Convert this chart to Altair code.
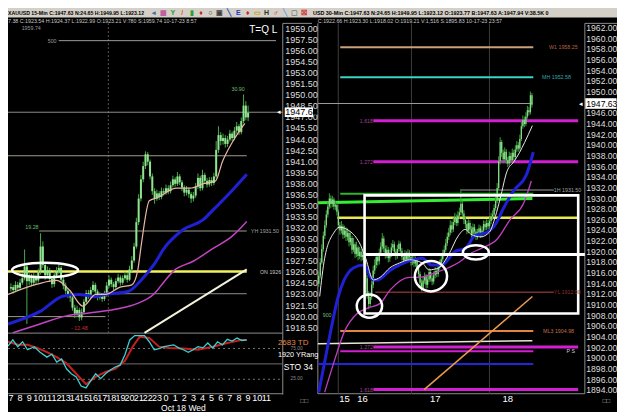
import altair as alt
import pandas as pd

W, H = 609, 404
SX, SY = W / 625.0, H / 420.0
FONT = "Liberation Sans"


def px(v):
    return v * SX


def py(v):
    return v * SY


# ======================= DATA =======================
# ---- left pane: XAUUSD 15-min candles (hours since Oct 17 00:00) ----
L_OPEN0 = 1923.8
L_CLOSE = [1924.0, 1923.6, 1924.3, 1923.9, 1924.6, 1925.2, 1926.8, 1924.8, 1925.4, 1924.6,
           1925.3, 1924.9, 1926.0, 1929.5, 1927.0, 1925.6, 1926.3, 1925.1, 1924.4, 1925.6,
           1926.2, 1926.6, 1925.0, 1924.2, 1923.5, 1923.0, 1922.6, 1921.2, 1920.4, 1920.9,
           1919.9, 1920.6, 1922.0, 1923.2, 1922.8, 1923.6, 1924.3, 1923.4, 1922.6, 1922.9,
           1922.4, 1923.0, 1924.2, 1925.0, 1924.4, 1924.0, 1924.8, 1925.3, 1924.6, 1925.2,
           1925.6, 1925.0, 1926.4, 1927.6, 1929.5, 1932.8, 1936.0, 1938.6, 1940.4, 1942.0,
           1941.0, 1939.0, 1937.0, 1936.0, 1936.7, 1936.2, 1937.0, 1936.8, 1937.4, 1937.0,
           1937.8, 1938.6, 1938.0, 1939.0, 1938.2, 1937.5, 1936.8, 1937.2, 1936.6, 1936.0,
           1936.4, 1937.6, 1938.8, 1937.4, 1939.2, 1938.4, 1937.9, 1938.5, 1938.1, 1939.0,
           1942.6, 1944.6, 1943.8, 1944.2, 1943.4, 1944.0, 1944.8, 1944.2, 1945.2, 1945.8,
           1945.0, 1946.5, 1948.6, 1947.0, 1947.63]
L_HIGH = [1924.5, 1924.3, 1924.8, 1924.7, 1925.1, 1925.9, 1929.1, 1927.0, 1926.0, 1925.8,
          1925.9, 1925.7, 1926.5, 1931.3, 1930.2, 1927.4, 1926.8, 1926.6, 1925.5, 1926.1,
          1926.7, 1927.2, 1926.9, 1925.4, 1924.6, 1923.9, 1923.4, 1922.9, 1921.6, 1921.5,
          1921.2, 1921.1, 1922.4, 1923.6, 1923.6, 1924.0, 1924.8, 1924.6, 1923.7, 1923.3,
          1923.2, 1923.5, 1924.7, 1925.6, 1925.3, 1924.7, 1925.2, 1925.8, 1925.6, 1925.6,
          1926.1, 1925.9, 1926.9, 1928.2, 1930.0, 1933.4, 1936.6, 1939.2, 1941.0, 1942.4,
          1942.3, 1941.3, 1939.4, 1937.4, 1937.2, 1937.0, 1937.5, 1937.4, 1937.9, 1937.8,
          1938.3, 1939.1, 1938.9, 1939.6, 1939.3, 1938.5, 1937.8, 1937.7, 1937.5, 1936.9,
          1936.9, 1938.1, 1939.4, 1939.1, 1939.9, 1939.5, 1938.8, 1938.9, 1938.9, 1939.5,
          1943.8, 1945.8, 1945.0, 1944.8, 1944.6, 1944.5, 1945.3, 1945.1, 1945.7, 1946.4,
          1946.1, 1947.0, 1950.1, 1949.2, 1948.6]
L_LOW = [1923.4, 1923.1, 1923.3, 1923.5, 1923.6, 1924.3, 1924.9, 1919.0, 1924.3, 1924.1,
         1924.2, 1924.3, 1924.6, 1925.7, 1926.6, 1925.0, 1925.2, 1924.7, 1923.9, 1924.0,
         1925.2, 1925.8, 1924.6, 1923.7, 1923.0, 1922.5, 1922.0, 1920.8, 1919.8, 1920.0,
         1919.4, 1919.5, 1920.3, 1921.7, 1922.4, 1922.5, 1923.3, 1923.0, 1922.2, 1922.3,
         1922.0, 1922.1, 1922.7, 1923.9, 1924.0, 1923.6, 1923.7, 1924.5, 1924.2, 1924.3,
         1924.9, 1924.6, 1924.8, 1926.1, 1927.3, 1929.2, 1932.4, 1935.6, 1938.2, 1940.0,
         1940.5, 1938.6, 1936.5, 1935.3, 1935.7, 1935.8, 1935.9, 1936.4, 1936.5, 1936.6,
         1936.7, 1937.5, 1937.6, 1937.7, 1937.8, 1937.0, 1936.3, 1936.4, 1936.1, 1935.4,
         1935.6, 1936.1, 1937.3, 1937.0, 1937.1, 1938.0, 1937.5, 1937.6, 1937.7, 1937.8,
         1938.7, 1942.2, 1943.2, 1943.3, 1942.9, 1943.0, 1943.7, 1943.8, 1943.9, 1944.8,
         1944.6, 1944.7, 1946.2, 1946.6, 1946.5]
L_FIRST_HOUR = 7.0
L_BAR_HOURS = 0.25

# moving averages (left)
L_FAST_T = [6.68, 9.88, 12.02, 13.41, 14.91, 16.29, 17.36, 18.97, 20.25, 20.89, 21.32, 22.17,
            23.03, 25.16, 26.66, 28.05, 29.44, 30.18, 31.25, 32.64]
L_FAST_V = [1923.0, 1924.4, 1924.9, 1923.6, 1921.4, 1923.0, 1923.0, 1924.0, 1924.3, 1926.2,
            1930.0, 1935.7, 1936.1, 1937.4, 1937.4, 1938.0, 1938.4, 1941.0, 1943.6, 1946.2]
L_BLUE_T = [6.68, 10.2, 12.77, 14.48, 16.29, 17.36, 19.82, 21.32, 22.71, 23.77, 25.91, 28.05,
            29.12, 31.25, 32.85]
L_BLUE_V = [1919.0, 1920.7, 1922.8, 1923.0, 1922.7, 1923.0, 1923.4, 1925.0, 1927.1, 1929.2,
            1931.8, 1933.1, 1934.4, 1937.1, 1939.3]
L_MAG_T = [7.21, 10.2, 13.09, 15.55, 18.43, 20.89, 22.71, 23.77, 24.84, 26.98, 29.12, 31.25, 32.85]
L_MAG_V = [1917.8, 1919.0, 1920.1, 1920.5, 1921.0, 1921.8, 1923.1, 1924.7, 1926.2, 1927.5,
           1929.2, 1930.9, 1932.9]
L_TREND_T = [21.64, 32.85]
L_TREND_V = [1917.8, 1926.4]

# stochastic (left lower pane)
STO_K_T = [6.68, 7.21, 7.75, 8.28, 8.82, 9.56, 10.2, 10.95, 11.49, 12.02, 12.56, 13.09, 13.62,
           14.16, 14.69, 15.23, 15.76, 16.29, 16.83, 17.36, 17.9, 18.43, 18.97, 19.5, 20.03,
           20.57, 21.64, 22.17, 22.71, 23.24, 23.77, 24.84, 25.38, 25.91, 26.44, 26.98, 27.51,
           28.05, 28.58, 29.12, 29.65, 30.18, 30.72, 31.25, 31.79, 32.32, 32.85]
STO_K_V = [79, 89, 78, 86, 73, 78, 69, 61, 66, 53, 58, 42, 34, 29, 14, 11, 23, 34, 26, 34,
           40, 45, 48, 65, 89, 96, 96, 86, 73, 75, 78, 81, 76, 73, 69, 73, 78, 76, 84, 76,
           86, 81, 90, 87, 92, 88, 89]
STO_D_T = [6.68, 7.75, 8.82, 9.88, 10.95, 12.02, 13.09, 14.16, 15.23, 16.29, 17.36, 18.43, 19.5,
           20.35, 21.1, 22.17, 23.24, 24.31, 25.91, 27.51, 29.12, 30.72, 32.32, 32.85]
STO_D_V = [86, 81, 81, 76, 69, 61, 51, 34, 17, 29, 37, 42, 55, 78, 94, 92, 78, 76, 75, 73,
           78, 84, 89, 89]
STO_LEVELS = [75, 50, 25]

# horizontal levels (left): value, start hour, end hour
L_LEVELS = {
    "500": (1957.4, 12.24, 36.06),
    "cur": (1947.7, 6.68, 36.8),
    "hi": (1941.8, 6.68, 32.85),
    "yh": (1931.6, 10.1, 32.85),
    "on": (1926.1, 6.68, 32.85),
    "mid": (1923.1, 16.83, 32.85),
    "lo": (1920.0, 6.68, 17.36),
}
L_VGRID = [17.68]

# left axis ticks / hour labels
L_TICKS = [1959.0, 1957.5, 1956.0, 1954.5, 1953.0, 1951.5, 1950.0, 1948.5, 1947.0, 1945.5,
           1944.0, 1942.5, 1941.0, 1939.5, 1938.0, 1936.5, 1935.0, 1933.5, 1932.0, 1930.5,
           1929.0, 1927.5, 1926.0, 1924.5, 1923.0, 1921.5, 1920.0, 1918.5]
L_HOUR_POS = [7, 8, 9, 10, 11, 12, 13, 14, 15, 16, 17, 18, 19, 20, 21, 22, 23, 24, 25, 26, 27,
              28, 29, 30, 31, 32, 33, 34, 35]
L_HOUR_TXT = ["7", "8", "9", "10", "11", "12", "13", "14", "15", "16", "17", "18", "19", "20",
              "21", "22", "23", "0", "1", "2", "3", "4", "5", "6", "7", "8", "9", "10", "11"]

# ---- right pane: XAUUSD 30-min candles (bar index) ----
R_OPEN0 = 1914.0
R_CLOSE = [1915.5, 1918.0, 1920.5, 1923.0, 1925.0, 1927.0, 1928.5, 1930.0, 1929.0, 1929.8,
           1928.5, 1928.8, 1927.5, 1925.0, 1924.0, 1924.8, 1923.2, 1924.0, 1922.8, 1923.5,
           1921.8, 1922.6, 1920.4, 1921.4, 1919.6, 1920.8, 1919.2, 1920.0, 1919.0, 1919.4,
           1918.0, 1915.0, 1912.0, 1910.2, 1911.5, 1913.8, 1916.5, 1917.5, 1919.0, 1918.2,
           1919.8, 1921.0, 1922.5, 1920.6, 1919.5, 1920.4, 1918.8, 1919.6, 1920.8, 1921.4,
           1920.0, 1919.2, 1920.5, 1921.5, 1920.2, 1919.0, 1918.4, 1919.6, 1918.6, 1919.8,
           1919.0, 1918.0, 1918.8, 1917.8, 1918.4, 1917.0, 1915.8, 1914.2, 1913.2, 1914.6,
           1915.4, 1913.8, 1914.8, 1916.2, 1915.0, 1914.4, 1915.6, 1916.4, 1915.8, 1917.0,
           1917.8, 1918.6, 1919.6, 1920.4, 1921.6, 1922.8, 1923.6, 1925.0, 1924.2, 1925.6,
           1926.4, 1925.4, 1926.8, 1927.4, 1929.0, 1927.2, 1926.0, 1925.2, 1924.0, 1925.4,
           1924.2, 1923.4, 1924.6, 1923.8, 1922.8, 1923.6, 1924.4, 1923.2, 1924.0, 1925.2,
           1924.6, 1925.4, 1924.8, 1925.8, 1926.6, 1927.0, 1928.2, 1929.6, 1932.0, 1937.0,
           1940.6, 1938.6, 1937.4, 1938.8, 1937.2, 1936.6, 1938.0, 1937.2, 1938.6, 1937.8,
           1939.2, 1940.0, 1939.4, 1941.2, 1943.6, 1944.8, 1944.0, 1945.4, 1946.6, 1946.2,
           1949.4, 1947.63]
R_HIGH = [1916.3, 1918.8, 1921.4, 1923.8, 1925.9, 1927.8, 1929.4, 1931.0, 1930.6, 1930.5,
          1930.2, 1929.6, 1929.2, 1927.9, 1925.6, 1925.8, 1925.2, 1924.9, 1924.6, 1924.4,
          1923.9, 1923.6, 1923.0, 1922.6, 1921.8, 1921.9, 1921.2, 1920.9, 1920.6, 1920.2,
          1919.9, 1918.5, 1915.6, 1912.6, 1912.4, 1914.6, 1917.4, 1918.6, 1919.8, 1919.7,
          1920.6, 1921.8, 1923.5, 1923.0, 1921.2, 1921.2, 1920.9, 1920.4, 1921.6, 1922.2,
          1921.9, 1920.6, 1921.3, 1922.1, 1921.9, 1920.7, 1919.6, 1920.3, 1920.1, 1920.5,
          1920.3, 1919.5, 1919.5, 1919.2, 1919.1, 1918.8, 1917.5, 1916.3, 1914.8, 1915.3,
          1916.1, 1915.8, 1915.5, 1916.9, 1916.7, 1915.6, 1916.3, 1917.1, 1916.9, 1917.7,
          1918.5, 1919.3, 1920.4, 1921.2, 1922.4, 1923.6, 1924.5, 1925.9, 1925.7, 1926.4,
          1927.3, 1927.0, 1927.6, 1928.3, 1931.8, 1929.6, 1927.8, 1926.6, 1925.8, 1926.1,
          1925.9, 1924.8, 1925.3, 1925.2, 1924.3, 1924.3, 1925.1, 1924.9, 1924.8, 1925.9,
          1925.8, 1926.1, 1926.0, 1926.5, 1927.3, 1927.8, 1928.9, 1930.4, 1932.9, 1937.9,
          1941.5, 1941.0, 1939.2, 1939.6, 1939.3, 1937.8, 1938.8, 1938.6, 1939.4, 1939.2,
          1940.0, 1940.8, 1940.6, 1942.0, 1944.4, 1945.6, 1945.4, 1946.2, 1947.4, 1947.2,
          1950.1, 1949.8]
R_LOW = [1913.4, 1915.0, 1917.6, 1920.0, 1922.4, 1924.5, 1926.4, 1928.0, 1928.2, 1928.4,
         1927.9, 1927.8, 1926.8, 1924.3, 1923.2, 1923.4, 1922.4, 1922.6, 1922.0, 1922.1,
         1921.0, 1921.2, 1919.6, 1919.9, 1918.8, 1919.0, 1918.4, 1918.6, 1918.2, 1918.4,
         1917.2, 1914.2, 1911.2, 1909.2, 1909.6, 1911.0, 1913.2, 1915.8, 1916.9, 1917.4,
         1917.6, 1919.2, 1920.4, 1919.9, 1918.7, 1918.8, 1918.0, 1918.1, 1919.0, 1920.2,
         1919.3, 1918.5, 1918.7, 1920.0, 1919.6, 1918.4, 1917.7, 1917.9, 1918.0, 1918.1,
         1918.3, 1917.4, 1917.5, 1917.1, 1917.2, 1916.3, 1915.0, 1913.5, 1912.6, 1912.8,
         1914.0, 1913.1, 1913.2, 1914.3, 1914.4, 1913.7, 1913.9, 1915.0, 1915.2, 1915.3,
         1916.5, 1917.3, 1918.1, 1919.1, 1919.9, 1921.1, 1922.2, 1923.1, 1923.5, 1923.7,
         1925.0, 1924.8, 1924.9, 1926.2, 1926.9, 1926.5, 1925.2, 1924.4, 1923.3, 1923.5,
         1923.6, 1922.6, 1922.8, 1923.1, 1922.2, 1922.3, 1923.0, 1922.6, 1922.7, 1923.5,
         1924.0, 1924.1, 1924.2, 1924.3, 1925.2, 1926.0, 1926.5, 1927.7, 1929.1, 1931.5,
         1936.4, 1937.8, 1936.6, 1936.9, 1936.5, 1935.9, 1936.1, 1936.6, 1936.8, 1937.2,
         1937.4, 1938.7, 1938.8, 1939.0, 1940.8, 1943.1, 1943.4, 1943.6, 1945.0, 1945.6,
         1945.8, 1947.1]

R_FAST_J = [0.6, 3.9, 10.3, 13.5, 21.3, 27.7, 31.0, 36.1, 40.6, 47.1, 53.5, 60.0, 68.4, 72.9,
            79.4, 85.8, 92.3, 96.8, 100.6, 107.1, 112.9, 116.8, 120.0, 124.5, 129.0, 132.9,
            136.1, 141.3]
R_FAST_V = [1911.6, 1918.8, 1923.7, 1924.6, 1923.7, 1921.2, 1918.8, 1914.7, 1915.2, 1917.0,
            1917.9, 1918.5, 1917.9, 1916.6, 1917.0, 1919.4, 1923.0, 1924.2, 1923.3, 1922.8,
            1923.7, 1926.6, 1930.0, 1935.1, 1936.9, 1938.7, 1940.5, 1943.7]
R_BLUE_J = [0.0, 6.5, 12.9, 16.8, 23.2, 29.7, 35.5, 38.7, 47.1, 60.0, 68.4, 74.8, 81.3, 90.3,
            96.8, 103.2, 111.6, 116.1, 122.6, 129.0, 137.4, 141.9]
R_BLUE_V = [1893.6, 1903.1, 1911.6, 1914.7, 1917.0, 1917.5, 1914.8, 1914.7, 1916.5, 1918.3,
            1918.8, 1917.5, 1917.5, 1920.1, 1920.6, 1923.0, 1923.7, 1924.8, 1928.4, 1931.5,
            1934.5, 1938.7]
R_MAG_J = [3.9, 10.3, 16.8, 25.8, 32.3, 40.6, 47.1, 60.0, 66.5, 77.4, 85.8, 94.2, 98.7, 107.1,
           118.1, 126.5, 135.5, 140.6]
R_MAG_V = [1893.6, 1899.5, 1904.9, 1908.5, 1909.4, 1910.3, 1912.8, 1915.2, 1915.2, 1916.1,
           1917.0, 1918.3, 1919.4, 1920.6, 1922.4, 1926.0, 1929.1, 1933.3]

# horizontal levels (right): value, start bar, end bar
R_LEVELS = {
    "W1": (1958.4, 14.2, 141.9),
    "MH": (1952.8, 14.2, 141.9),
    "cur": (1947.85, -0.6, 141.3),
    "f1618a": (1944.6, 36.1, 171.6),
    "f1272a": (1936.9, 36.1, 171.6),
    "1H": (1931.6, 94.2, 155.5),
    "grn": (1930.9, 14.2, 141.9),
    "yel": (1926.4, 12.3, 171.6),
    "YL": (1912.4, 37.4, 155.5),
    "ML3": (1905.1, 14.2, 141.9),
    "f1272b": (1902.1, 36.1, 171.6),
    "pp": (1901.3, 14.2, 141.9),
    "blu": (1898.9, -0.6, 141.9),
    "f1618b": (1894.1, 36.1, 171.6),
}
# sloped lines (right): (bar0, value0, bar1, value1)
R_SLOPES = {
    "lime": (-0.6, 1929.2, 141.3, 1930.0),
    "cream": (-0.6, 1902.7, 141.3, 1903.3),
    "orange": (69.7, 1894.1, 141.3, 1911.6),
}
R_BOX = (30.3, 171.6, 1908.4, 1930.6)
R_WHITE_LINE = (1919.5, 30.3, 176.0)
R_VGRID = [12.9, 61.3, 112.9]
R_TICKS = [1962.0, 1960.0, 1958.0, 1956.0, 1954.0, 1952.0, 1950.0, 1948.0, 1946.0, 1944.0,
           1942.0, 1940.0, 1938.0, 1936.0, 1934.0, 1932.0, 1930.0, 1928.0, 1926.0, 1924.0,
           1922.0, 1920.0, 1918.0, 1916.0, 1914.0, 1912.0, 1910.0, 1908.0, 1906.0, 1904.0,
           1902.0, 1900.0, 1898.0, 1896.0, 1894.0]
R_DAY_POS = [17, 29, 77, 125]
R_DAY_TXT = ["15", "16", "17", "18"]

# annotation circles: centre (x, value)
L_ELLIPSES = [(10.74, 1926.3)]
R_ELLIPSES = [(33.5, 1909.8), (74.2, 1915.4), (103.9, 1919.9)]

LAST_PRICE = "1947.63"

# ======================= STYLES =======================
L_LEVEL_STYLE = {
    "500": ("#9a9a9a", 1.0), "cur": ("#8e8e8e", 1.0), "hi": ("#a09a86", 1.0),
    "yh": ("#a09a86", 1.0), "on": ("#f2f25a", 2.5), "mid": ("#8e8e8e", 1.0),
    "lo": ("#a09a86", 1.0),
}
R_LEVEL_STYLE = {
    "W1": ("#c9a27c", 2.0), "MH": ("#3fd3c6", 2.0), "cur": ("#9a9a9a", 1.0),
    "f1618a": ("#d21fd2", 3.0), "f1272a": ("#d21fd2", 3.0), "1H": ("#9a9a9a", 1.0),
    "grn": ("#2fb52f", 2.0), "yel": ("#eaea50", 2.5), "YL": ("#7a2e2e", 1.5),
    "ML3": ("#e3843f", 2.0), "f1272b": ("#d21fd2", 3.0), "pp": ("#d21fd2", 2.0),
    "blu": ("#2424d8", 2.0), "f1618b": ("#d21fd2", 3.0),
}
R_SLOPE_STYLE = {"lime": ("#33ee33", 3.0), "cream": ("#e6e6d6", 1.5),
                 "orange": ("#eb9a50", 1.5)}
L_ELLIPSE_STYLE = [(66.0, 0.22)]
R_ELLIPSE_STYLE = [(25.3, 0.92), (32.2, 0.94), (25.9, 0.55)]

# ======================= SCALES =======================
LX = alt.Scale(domain=[6.68, 36.8], range=[px(0), px(282)], zero=False, nice=False)
LY = alt.Scale(domain=[1917.76, 1959.74], range=[py(338), py(16)], zero=False, nice=False)
STY = alt.Scale(domain=[0, 100], range=[py(402), py(338)], zero=False, nice=False)
RX = alt.Scale(domain=[-0.6, 176], range=[px(318), px(592)], zero=False, nice=False)
RY = alt.Scale(domain=[1893.33, 1962.9], range=[py(401), py(16)], zero=False, nice=False)


def X(f, s):
    return alt.X(f, type="quantitative", scale=s, axis=None)


def Y(f, s):
    return alt.Y(f, type="quantitative", scale=s, axis=None)


ONE = pd.DataFrame({"k": [0]})
layers = []


def fixed_rect(x0, x1, y0, y1, color):
    layers.append(alt.Chart(ONE).mark_rect(color=color).encode(
        x=alt.value(px(x0)), x2=alt.value(px(x1)), y=alt.value(py(y0)), y2=alt.value(py(y1))))


def fixed_rule(x0, y0, x1, y1, color, w=1.0):
    layers.append(alt.Chart(ONE).mark_rule(color=color, strokeWidth=w).encode(
        x=alt.value(px(x0)), x2=alt.value(px(x1)), y=alt.value(py(y0)), y2=alt.value(py(y1))))


def fixed_text(x, y, s, color, size, align="left", weight="normal"):
    layers.append(alt.Chart(ONE).mark_text(
        text=s, align=align, baseline="middle", color=color, fontSize=size, font=FONT,
        fontWeight=weight).encode(x=alt.value(px(x)), y=alt.value(py(y))))


def hrule(v, a, b, xs, ys, color, w, dash=None):
    df = pd.DataFrame({"v": [v], "a": [a], "b": [b]})
    kw = dict(color=color, strokeWidth=w)
    if dash:
        kw["strokeDash"] = dash
    layers.append(alt.Chart(df).mark_rule(**kw).encode(
        x=X("a", xs), x2=alt.X2("b"), y=Y("v", ys)))


def vrule(x, v0, v1, xs, ys, color, w, dash=None):
    df = pd.DataFrame({"x": [x], "a": [v0], "b": [v1]})
    kw = dict(color=color, strokeWidth=w)
    if dash:
        kw["strokeDash"] = dash
    layers.append(alt.Chart(df).mark_rule(**kw).encode(
        x=X("x", xs), y=Y("a", ys), y2=alt.Y2("b")))


def line(xv, yv, xs, ys, color, w, interp="linear"):
    df = pd.DataFrame({"x": xv, "y": yv, "o": list(range(len(xv)))})
    layers.append(alt.Chart(df).mark_line(color=color, strokeWidth=w, interpolate=interp).encode(
        x=X("x", xs), y=Y("y", ys), order="o:Q"))


def dtext(x, v, s, xs, ys, color, size, align="left"):
    df = pd.DataFrame({"x": [x], "v": [v], "s": [s]})
    layers.append(alt.Chart(df).mark_text(
        align=align, baseline="middle", color=color, fontSize=size, font=FONT).encode(
        x=X("x", xs), y=Y("v", ys), text="s:N"))


def ellipse(x, v, xs, ys, width, ratio):
    path = f"M -1 0 A 1 {ratio} 0 1 0 1 0 A 1 {ratio} 0 1 0 -1 0 Z"
    df = pd.DataFrame({"x": [x], "v": [v]})
    layers.append(alt.Chart(df).mark_point(
        shape=path, filled=False, color="white", strokeWidth=2.5, opacity=1,
        size=width * width).encode(x=X("x", xs), y=Y("v", ys)))


# ---------------- header ----------------
fixed_rect(0, 625, 0, 10, "#d4d0c8")
fixed_text(0, 5.2, "XAUUSD 15-Min C:1947.63 N:24.65 H:1949.95 L:1923.12", "#000000", 5.2,
           weight="bold")
fixed_text(313, 5.2, "USD 30-Min  C:1947.63  N:24.65  H:1949.95  L:1923.12  O:1923.77  "
           "B:1947.63  A:1947.94  V:38.5K  0", "#000000", 5.4, weight="bold")
ICONS = ["◂", "▦", "Y", "/", "▮", "♦", "○", "▣", "╲", "E", "♦", "▭", "H", "♂", "╲", "▢", "☒"]
ICON_COL = ["#4a6fa5", "#c060a0", "#2a9a2a", "#e06020", "#30a030", "#d02020", "#303030",
            "#404040", "#2040c0", "#2040c0", "#d02020", "#c0a000", "#303030", "#c02020",
            "#60a0e0", "#808080", "#d02020"]
for k, (g, c) in enumerate(zip(ICONS, ICON_COL)):
    fixed_text(150 + 9.6 * k, 5.2, g, c, 7, align="center", weight="bold")
fixed_text(0, 13.4, "7.38  C:1923.54  H:1924.37  L:1922.99  O:1923.21  V:780  S:1959.74  "
           "10-17-23  8:57", "#c8c8c8", 5.3)
fixed_text(318, 13.4, "C:1922.66  H:1923.30  L:1918.02  O:1919.21  V:1,516  S:1895.83  "
           "10-17-23  23:57", "#c8c8c8", 5.3)

# ---------------- frames ----------------
fixed_rule(282, 16, 282, 402, "#8a8a8a")
fixed_rule(0, 338, 282, 338, "#8a8a8a")
fixed_rule(0, 401, 282, 401, "#8a8a8a")
fixed_rule(318, 16, 318, 401, "#8a8a8a")
fixed_rule(592, 16, 592, 401, "#8a8a8a")
fixed_rule(318, 401, 592, 401, "#8a8a8a")
fixed_rule(282, 16, 312, 16, "#8a8a8a")
fixed_rule(592, 16, 625, 16, "#8a8a8a")

# grid verticals
for t in L_VGRID:
    vrule(t, 1917.76, 1959.74, LX, LY, "#555555", 1, [2, 2])
for j in R_VGRID:
    vrule(j, 1893.33, 1962.9, RX, RY, "#3c3c3c", 1)

# ---------------- levels ----------------
for name, (v, a, b) in L_LEVELS.items():
    c, w = L_LEVEL_STYLE[name]
    hrule(v, a, b, LX, LY, c, w)
for name, (v, a, b) in R_LEVELS.items():
    c, w = R_LEVEL_STYLE[name]
    hrule(v, a, b, RX, RY, c, w)
for name, (a, v0, b, v1) in R_SLOPES.items():
    c, w = R_SLOPE_STYLE[name]
    line([a, b], [v0, v1], RX, RY, c, w)

# stochastic guide lines
for lv in STO_LEVELS:
    hrule(lv, 6.68, 36.8, LX, STY, "#6e6e6e", 1, None if lv == 50 else [2, 3])

# ---------------- candles ----------------
L_TIME = [L_FIRST_HOUR + L_BAR_HOURS * i for i in range(len(L_CLOSE))]
ldf = pd.DataFrame({"t": L_TIME, "o": [L_OPEN0] + L_CLOSE[:-1], "c": L_CLOSE,
                    "h": L_HIGH, "l": L_LOW})
layers.append(alt.Chart(ldf).mark_rule(color="#4aa84a", strokeWidth=1).encode(
    x=X("t", LX), y=Y("l", LY), y2=alt.Y2("h")))
layers.append(alt.Chart(ldf).mark_rule(color="#8fe58f", strokeWidth=2).encode(
    x=X("t", LX), y=Y("o", LY), y2=alt.Y2("c")))

rdf = pd.DataFrame({"j": list(range(len(R_CLOSE))), "o": [R_OPEN0] + R_CLOSE[:-1],
                    "c": R_CLOSE, "h": R_HIGH, "l": R_LOW})
layers.append(alt.Chart(rdf).mark_rule(color="#3c9c3c", strokeWidth=1).encode(
    x=X("j", RX), y=Y("l", RY), y2=alt.Y2("h")))
layers.append(alt.Chart(rdf).mark_rule(color="#86dc86", strokeWidth=1.3).encode(
    x=X("j", RX), y=Y("o", RY), y2=alt.Y2("c")))

# ---------------- moving averages ----------------
line(L_MAG_T, L_MAG_V, LX, LY, "#c444c4", 1.5, "monotone")
line(L_BLUE_T, L_BLUE_V, LX, LY, "#2020d4", 3, "monotone")
line(L_FAST_T, L_FAST_V, LX, LY, "#eab8a6", 1.2, "monotone")
line(L_TREND_T, L_TREND_V, LX, LY, "#f4f2d8", 2)

line(R_MAG_J, R_MAG_V, RX, RY, "#c23fc2", 1.3, "monotone")
line(R_BLUE_J, R_BLUE_V, RX, RY, "#2020d4", 3, "monotone")
line(R_FAST_J, R_FAST_V, RX, RY, "#e8e8e8", 1, "monotone")

# white box and line, circles
bx = pd.DataFrame({"a": [R_BOX[0]], "b": [R_BOX[1]], "lo": [R_BOX[2]], "hi": [R_BOX[3]]})
layers.append(alt.Chart(bx).mark_rect(fillOpacity=0, stroke="white", strokeWidth=2.6).encode(
    x=X("a", RX), x2=alt.X2("b"), y=Y("lo", RY), y2=alt.Y2("hi")))
hrule(R_WHITE_LINE[0], R_WHITE_LINE[1], R_WHITE_LINE[2], RX, RY, "white", 3)
for (x, v), (wd, r) in zip(L_ELLIPSES, L_ELLIPSE_STYLE):
    ellipse(x, v, LX, LY, wd, r)
for (x, v), (wd, r) in zip(R_ELLIPSES, R_ELLIPSE_STYLE):
    ellipse(x, v, RX, RY, wd, r)

# stochastic
line(STO_D_T, STO_D_V, LX, STY, "#c42020", 2)
line(STO_K_T, STO_K_V, LX, STY, "#3fcfcf", 1.3)

# ---------------- texts ----------------
# left pane annotations
fixed_text(14, 21, "1959.74", "#9a9a9a", 5.3)
dtext(12.0, 1957.4, "500", LX, LY, "#9a9a9a", 5.3, "right")
fixed_text(262, 23, "T=Q L", "#ffffff", 10, align="center")
dtext(31.9, 1950.9, "30.90", LX, LY, "#6fbf6f", 5.3, "center")
dtext(9.3, 1932.2, "19.28", LX, LY, "#6fbf6f", 5.3, "center")
dtext(33.3, 1931.6, "YH 1931.50", LX, LY, "#a0a0a0", 5.3)
dtext(34.3, 1926.1, "ON 1926", LX, LY, "#c8c8c8", 5.3)
dtext(14.5, 1918.5, "- 12.48", LX, LY, "#c83030", 5.3, "center")
fixed_text(277, 348, "2683 TD", "#e28a48", 8)
fixed_text(290, 354, "75.00", "#8a8a8a", 4.8)
fixed_text(290, 386, "25.00", "#8a8a8a", 4.8)
fixed_text(277, 361, "1920 YRang", "#ffffff", 7.3)
fixed_text(283, 373, "STO  34", "#ffffff", 8.5)

# right pane annotations
dtext(152.3, 1958.4, "W1  1958.25", RX, RY, "#b86040", 5.3)
dtext(147.7, 1952.8, "MH  1952.58", RX, RY, "#30a8a8", 5.3)
dtext(27.1, 1944.6, "1.618", RX, RY, "#a04098", 5.3)
dtext(27.1, 1936.9, "1.272", RX, RY, "#a04098", 5.3)
dtext(155.5, 1931.6, "1H  1931.50", RX, RY, "#a0a0a0", 5.3)
dtext(155.5, 1912.4, "YL  1912.90", RX, RY, "#8c3030", 5.3)
dtext(148.4, 1905.1, "ML3  1904.98", RX, RY, "#c07040", 5.3)
dtext(27.1, 1902.1, "1.272", RX, RY, "#a04098", 5.3)
dtext(27.1, 1894.1, "1.618", RX, RY, "#a04098", 5.3)
dtext(163.9, 1901.3, "P  S", RX, RY, "#d0d0d0", 5.3)
dtext(2.6, 1908.2, "900", RX, RY, "#6fbf6f", 5.3)

# axis tick labels
ltk = pd.DataFrame({"v": L_TICKS, "s": [f"{v:.2f}" for v in L_TICKS]})
layers.append(alt.Chart(ltk).mark_text(align="left", baseline="middle", color="#dedede",
                                        fontSize=9.0, font=FONT).encode(
    x=alt.value(px(284.5)), y=Y("v", LY), text="s:N"))
rtk = pd.DataFrame({"v": R_TICKS, "s": [f"{v:.2f}" for v in R_TICKS]})
layers.append(alt.Chart(rtk).mark_text(align="left", baseline="middle", color="#dedede",
                                        fontSize=8.6, font=FONT).encode(
    x=alt.value(px(593.5)), y=Y("v", RY), text="s:N"))

hrs = pd.DataFrame({"t": L_HOUR_POS, "s": L_HOUR_TXT})
layers.append(alt.Chart(hrs).mark_text(align="center", baseline="middle", color="#ffffff",
                                        fontSize=9.0, font=FONT).encode(
    x=X("t", LX), y=alt.value(py(405.5)), text="s:N"))
fixed_text(180, 416, "Oct 18 Wed", "#ffffff", 8.5, align="center")
days = pd.DataFrame({"j": R_DAY_POS, "s": R_DAY_TXT})
layers.append(alt.Chart(days).mark_text(align="center", baseline="middle", color="#ffffff",
                                         fontSize=9.5, font=FONT).encode(
    x=X("j", RX), y=alt.value(py(407)), text="s:N"))
fixed_text(300, 409, "□□", "#b0b0b0", 6.5)
fixed_text(610, 409, "□□", "#b0b0b0", 6.5)

# last-price boxes
BOX_PATH = "M -1 -0.34 L 1 -0.34 L 1 0.34 L -1 0.34 Z"
cur_l = pd.DataFrame({"v": [1947.7], "s": [LAST_PRICE]})
layers.append(alt.Chart(cur_l).mark_point(shape=BOX_PATH, filled=True, color="white", opacity=1,
                                           size=px(29) ** 2).encode(
    x=alt.value(px(298.5)), y=Y("v", LY)))
layers.append(alt.Chart(cur_l).mark_text(align="left", baseline="middle", color="black",
                                          fontSize=9.0, font=FONT).encode(
    x=alt.value(px(284.5)), y=Y("v", LY), text="s:N"))
layers.append(alt.Chart(cur_l).mark_text(text="◂", align="center", baseline="middle",
                                          color="white", fontSize=7).encode(
    x=alt.value(px(278)), y=Y("v", LY)))
cur_r = pd.DataFrame({"v": [1947.85], "s": [LAST_PRICE]})
layers.append(alt.Chart(cur_r).mark_point(shape=BOX_PATH, filled=True, color="white", opacity=1,
                                           size=px(32) ** 2).encode(
    x=alt.value(px(608.5)), y=Y("v", RY)))
layers.append(alt.Chart(cur_r).mark_text(align="left", baseline="middle", color="black",
                                          fontSize=8.6, font=FONT).encode(
    x=alt.value(px(593.5)), y=Y("v", RY), text="s:N"))
layers.append(alt.Chart(cur_r).mark_text(text="◂", align="center", baseline="middle",
                                          color="white", fontSize=7).encode(
    x=alt.value(px(588)), y=Y("v", RY)))

chart = alt.layer(*layers).resolve_scale(x="independent", y="independent").properties(
    width=W, height=H, background="black", padding=0,
    autosize=alt.AutoSizeParams(type="none")).configure_view(stroke=None)

chart.save("out.html", embed_options={"renderer": "svg", "actions": False})
